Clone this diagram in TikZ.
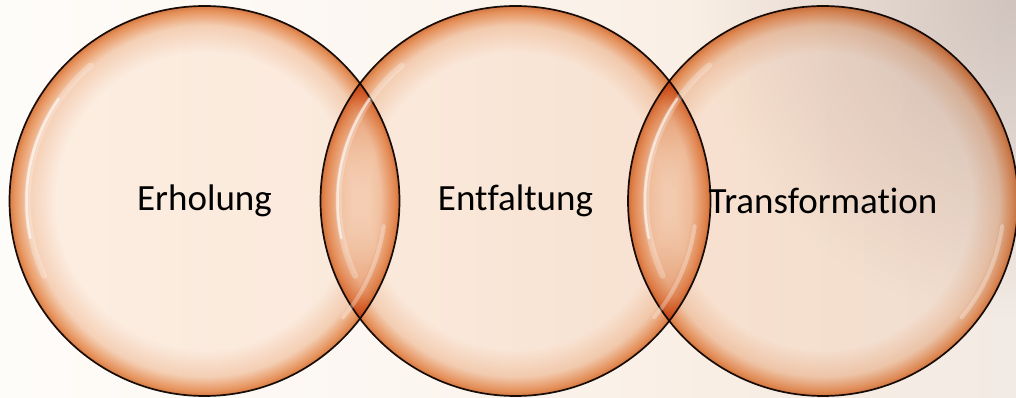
\documentclass[tikz,border=0pt]{standalone}
\usepackage{fontspec}
\setmainfont{Carlito}[Ligatures=NoCommon]
\usetikzlibrary{positioning, shadings}
\definecolor{bubin}{RGB}{253,241,232}
\definecolor{bubmid}{RGB}{246,212,188}
\definecolor{bubrim}{RGB}{232,150,96}
\definecolor{bubedge}{RGB}{214,124,70}
\definecolor{bubline}{RGB}{28,18,12}
\definecolor{bgleft}{RGB}{254,252,249}
\definecolor{bgmid}{RGB}{249,238,228}
\definecolor{bgright}{RGB}{242,234,228}
\definecolor{bggray}{RGB}{220,213,212}
\pgfdeclareradialshading{bubble}{\pgfpoint{0bp}{0bp}}{color(0bp)=(bubin); color(19bp)=(bubin); color(22.5bp)=(bubmid); color(24.4bp)=(bubrim); color(25bp)=(bubedge); color(50bp)=(bubedge)}
\pgfdeclarehorizontalshading{backdrop}{100bp}{color(0bp)=(bgleft); color(25bp)=(bgleft); color(45bp)=(bgleft!60!bgmid); color(60bp)=(bgmid); color(75bp)=(bgright); color(100bp)=(bgright)}

\begin{document}
\begin{tikzpicture}[
  x=1pt, y=1pt,
  bub/.style={circle, draw=bubline, line width=1.7pt, minimum size=390pt, inner sep=0pt, shading=bubble, font=\fontsize{37}{44}\selectfont},
  gloss/.style={white, line cap=round}
]
\shade[shading=backdrop] (0,0) rectangle (1016,398);
\begin{scope}[blend mode=multiply]
  \clip (0,0) rectangle (1016,398);
  \shade[inner color=bggray, outer color=white] (1016,398) circle[radius=320];
\end{scope}
\useasboundingbox (0,0) rectangle (1016,398);

\begin{scope}[blend mode=multiply]
\node[bub] (erh) at (204.5,197) {Erholung};
\node[bub] (ent) at (515.5,197) {Entfaltung};
\node[bub] (tra) at (823,197) {Transformation};
\end{scope}

% glossy reflections
\foreach \n in {erh,ent,tra} {
  \draw[gloss, line width=6pt, opacity=0.25] ([shift={(130:177)}]\n.center) arc[start angle=130, end angle=205, radius=177];
  \draw[gloss, line width=2.5pt, opacity=0.6] ([shift={(145:178)}]\n.center) arc[start angle=145, end angle=192, radius=178];
  \draw[gloss, line width=4pt, opacity=0.3] ([shift={(-8:181)}]\n.center) arc[start angle=-8, end angle=-40, radius=181];
}
\end{tikzpicture}
\end{document}
